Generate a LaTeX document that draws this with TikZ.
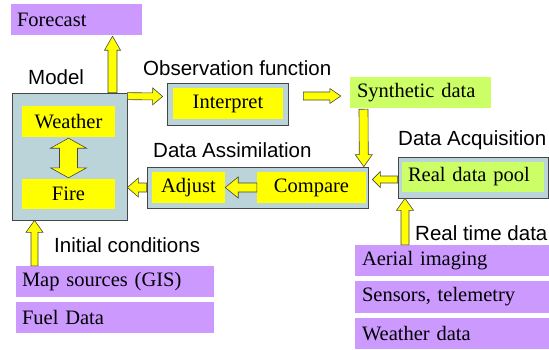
\documentclass[tikz,border=0pt]{standalone}
\usepackage{fontspec}
\setmainfont{Liberation Serif}
\setsansfont{Liberation Sans}
\usetikzlibrary{calc}
\definecolor{lblue}{RGB}{186,212,218}
\definecolor{lpurple}{RGB}{204,153,255}
\definecolor{lgreen}{RGB}{204,255,102}
\definecolor{ayellow}{RGB}{255,255,0}
\definecolor{edgegray}{RGB}{70,70,70}
\newcommand{\fatarr}[5]{%
  \path (#4) coordinate (fas) (#5) coordinate (fae);
  \path ($(fae)!#3!(fas)$) coordinate (fah);
  \draw[fatarrow] ($(fas)!#1!90:(fae)$) -- ($(fah)!#1!90:(fae)$) -- ($(fah)!#2!90:(fae)$) -- (fae)
    -- ($(fah)!#2!-90:(fae)$) -- ($(fah)!#1!-90:(fae)$) -- ($(fas)!#1!-90:(fae)$) -- cycle;}
\newcommand{\dblarr}[5]{%
  \path (#4) coordinate (fas) (#5) coordinate (fae);
  \path ($(fas)!#3!(fae)$) coordinate (fah) ($(fae)!#3!(fas)$) coordinate (fak);
  \draw[fatarrow] (fas) -- ($(fah)!#2!90:(fae)$) -- ($(fah)!#1!90:(fae)$) -- ($(fak)!#1!90:(fae)$) -- ($(fak)!#2!90:(fae)$) -- (fae)
    -- ($(fak)!#2!-90:(fae)$) -- ($(fak)!#1!-90:(fae)$) -- ($(fah)!#1!-90:(fae)$) -- ($(fah)!#2!-90:(fae)$) -- cycle;}
\begin{document}
\begin{tikzpicture}[x=1pt,y=-1pt,
  box/.style={inner sep=0pt, font=\rmfamily\fontsize{20.5}{24}\selectfont},
  bluebox/.style={box, fill=lblue, draw=edgegray, line width=0.7pt},
  ybox/.style={box, fill=ayellow},
  pbox/.style={box, fill=lpurple, align=left},
  gbox/.style={box, fill=lgreen, align=left},
  lab/.style={inner sep=0pt, anchor=west, font=\sffamily\fontsize{20.5}{24}\selectfont},
  fatarrow/.style={fill=ayellow, draw=edgegray, line width=0.6pt, line join=miter}]
\useasboundingbox (0,0) rectangle (549,349);
% left column
\node[pbox, minimum width=131pt, minimum height=31pt, text width=119pt] (forecast) at (76.5,19.5) {Forecast};
\node[bluebox, minimum width=115pt, minimum height=127pt] (model) at (69.5,156.5) {};
\node[ybox, minimum width=93pt, minimum height=31pt] (weather) at (68.5,121.5) {Weather};
\node[ybox, minimum width=93pt, minimum height=30pt] (fire) at (68.5,194) {Fire};
\node[pbox, minimum width=198pt, minimum height=31pt, text width=186pt] (mapsrc) at (115,281.5) {Map sources (GIS)};
\node[pbox, minimum width=198pt, minimum height=31pt, text width=186pt] (fuel) at (115,317.5) {Fuel Data};
% observation
\node[bluebox, minimum width=121pt, minimum height=42pt] (interpout) at (227.5,104) {};
\node[ybox, minimum width=110pt, minimum height=31pt] (interp) at (228,103.5) {Interpret};
\node[gbox, minimum width=141pt, minimum height=31pt, text width=127pt] (synth) at (420.5,92.5) {Synthetic data};
% assimilation
\node[bluebox, minimum width=221pt, minimum height=41pt] (da) at (257.5,187.5) {};
\node[ybox, minimum width=73pt, minimum height=31pt] (adjust) at (188.5,187.5) {Adjust};
\node[ybox, minimum width=109pt, minimum height=31pt] (compare) at (311.5,187.5) {Compare};
% acquisition
\node[bluebox, minimum width=150pt, minimum height=41pt] (dacq) at (473,177.5) {};
\node[gbox, minimum width=142pt, minimum height=30pt, text width=130pt] (real) at (473,177) {Real data pool};
\node[pbox, minimum width=194pt, minimum height=31pt, text width=180pt] (aerial) at (452,260.5) {Aerial imaging};
\node[pbox, minimum width=194pt, minimum height=32pt, text width=180pt] (sensors) at (452,297) {Sensors, telemetry};
\node[pbox, minimum width=194pt, minimum height=31pt, text width=180pt] (wdata) at (452,333.5) {Weather data};
% labels
\node[lab] (lmodel) at (28,77) {Model};
\node[lab] (lobs) at (143,68) {Observation function};
\node[lab] (lda) at (153,150) {Data Assimilation};
\node[lab] (ldacq) at (398,140) {Data Acquisition};
\node[lab] (lrt) at (415,233) {Real time data};
\node[lab] (linit) at (54,245) {Initial conditions};
% arrows
\fatarr{4.5pt}{8pt}{14pt}{[xshift=43pt]model.north}{[xshift=36pt,yshift=-1pt]forecast.south}
\fatarr{3.5pt}{8.5pt}{10pt}{[yshift=-3.5pt]model.north east}{[xshift=-4pt,yshift=7.5pt]interpout.west}
\fatarr{4pt}{7.5pt}{11pt}{[xshift=15pt,yshift=8pt]interpout.east}{[xshift=-9pt,yshift=-3.5pt]synth.west}
\fatarr{4.5pt}{8.5pt}{12pt}{[xshift=-57pt,yshift=-1pt]synth.south}{[xshift=-4.5pt]da.north east}
\fatarr{3.5pt}{8pt}{8pt}{[yshift=-2pt]dacq.west}{[xshift=4pt,yshift=8pt]da.east}
\fatarr{4.5pt}{10.5pt}{13pt}{compare.west}{adjust.east}
\fatarr{4.5pt}{9.5pt}{11pt}{da.west}{[yshift=-31pt]model.east}
\fatarr{4pt}{8.5pt}{12pt}{[xshift=-47pt]aerial.north}{[xshift=-68pt]dacq.south}
\fatarr{3.5pt}{8.5pt}{12pt}{[xshift=-80.5pt]mapsrc.north}{[xshift=-35pt]model.south}
\dblarr{9pt}{18pt}{10pt}{[yshift=-1pt]weather.south}{[yshift=1pt]fire.north}
\end{tikzpicture}
\end{document}
